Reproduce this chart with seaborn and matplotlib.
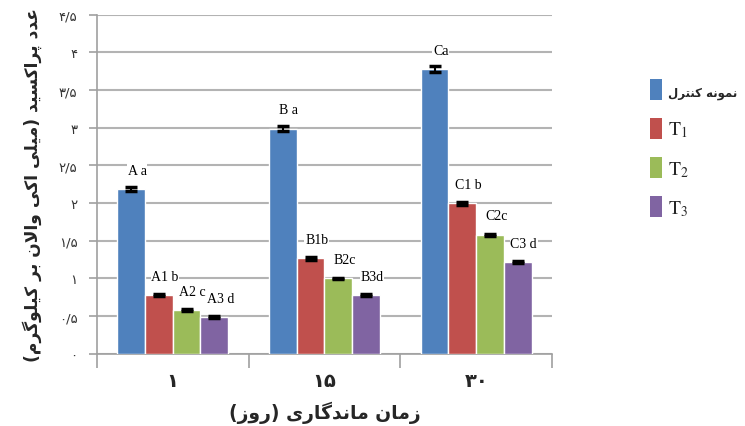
import matplotlib
matplotlib.use("Agg")
import matplotlib.pyplot as plt
import seaborn as sns
import pandas as pd
from matplotlib.patches import Patch
from matplotlib.ticker import FixedLocator

# ---------------- data ----------------
days = ["۱", "۱۵", "۳۰"]
treatments = ["control", "T1", "T2", "T3"]
control = [2.19, 2.99, 3.78]
t1 = [0.78, 1.27, 2.00]
t2 = [0.58, 1.00, 1.58]
t3 = [0.49, 0.78, 1.22]
err_control = [0.03, 0.03, 0.04]
err_t1 = [0.015, 0.02, 0.02]
err_t2 = [0.01, 0.01, 0.015]
err_t3 = [0.01, 0.01, 0.01]
letters_control = ["A a", "B a", "Ca"]
letters_t1 = ["A1 b", "B1b", "C1 b"]
letters_t2 = ["A2 c", "B2c", "C2c"]
letters_t3 = ["A3 d", "B3d", "C3 d"]
y_ticks = [0, 0.5, 1, 1.5, 2, 2.5, 3, 3.5, 4, 4.5]
y_tick_labels = ["۰", "۰/۵", "۱", "۱/۵", "۲", "۲/۵", "۳", "۳/۵", "۴", "۴/۵"]
legend_labels_fa = "نمونه کنترل"
x_title = "زمان ماندگاری (روز)"
y_title = "عدد پراکسید (میلی اکی والان بر کیلوگرم)"
colors = ["#4F81BD", "#C0504D", "#9BBB59", "#8064A2"]

# ------------- simple Persian shaping (presentation forms + RTL) -------------
FORMS = {
    "\u0627": ("\uFE8D", "\uFE8E"),
    "\u0628": ("\uFE8F", "\uFE90", "\uFE91", "\uFE92"),
    "\u067E": ("\uFB56", "\uFB57", "\uFB58", "\uFB59"),
    "\u062A": ("\uFE95", "\uFE96", "\uFE97", "\uFE98"),
    "\u062F": ("\uFEA9", "\uFEAA"),
    "\u0631": ("\uFEAD", "\uFEAE"),
    "\u0632": ("\uFEAF", "\uFEB0"),
    "\u0633": ("\uFEB1", "\uFEB2", "\uFEB3", "\uFEB4"),
    "\u0639": ("\uFEC9", "\uFECA", "\uFECB", "\uFECC"),
    "\u06A9": ("\uFB8E", "\uFB8F", "\uFB90", "\uFB91"),
    "\u06AF": ("\uFB92", "\uFB93", "\uFB94", "\uFB95"),
    "\u0644": ("\uFEDD", "\uFEDE", "\uFEDF", "\uFEE0"),
    "\u0645": ("\uFEE1", "\uFEE2", "\uFEE3", "\uFEE4"),
    "\u0646": ("\uFEE5", "\uFEE6", "\uFEE7", "\uFEE8"),
    "\u0647": ("\uFEE9", "\uFEEA", "\uFEEB", "\uFEEC"),
    "\u0648": ("\uFEED", "\uFEEE"),
    "\u06CC": ("\uFBFC", "\uFBFD", "\uFBFE", "\uFBFF"),
}


def fa(text):
    def dual(c):
        return c in FORMS and len(FORMS[c]) == 4

    out = []
    n = len(text)
    i = 0
    while i < n:
        c = text[i]
        if c not in FORMS:
            out.append(c)
            i += 1
            continue
        prev = text[i - 1] if i > 0 else ""
        pj = dual(prev)
        if c == "\u0644" and i + 1 < n and text[i + 1] == "\u0627":
            out.append("\uFEFC" if pj else "\uFEFB")
            i += 2
            continue
        nxt = text[i + 1] if i + 1 < n else ""
        nj = dual(c) and nxt in FORMS
        f = FORMS[c]
        if pj and nj:
            g = f[3]
        elif pj:
            g = f[1]
        elif nj:
            g = f[2]
        else:
            g = f[0]
        out.append(g)
        i += 1
    s = "".join(reversed(out))
    return s.translate(str.maketrans("()", ")("))


# ---------------- table ----------------
vals = [control, t1, t2, t3]
errs = [err_control, err_t1, err_t2, err_t3]
letters = [letters_control, letters_t1, letters_t2, letters_t3]
rows = []
for tr, vv in zip(treatments, vals):
    for d, v in zip(days, vv):
        rows.append({"day": d, "treatment": tr, "value": v})
df = pd.DataFrame(rows)

sns.set_style("white")
plt.rcParams["font.family"] = ["DejaVu Sans"]
plt.rcParams["mathtext.fontset"] = "stix"

fig = plt.figure(figsize=(7.45, 4.27), dpi=100)
ax = fig.add_axes([0.130, 0.169, 0.611, 0.794])

sns.barplot(data=df, x="day", y="value", hue="treatment", order=days,
            hue_order=treatments, palette=colors, width=0.73, saturation=1,
            errorbar=None, legend=False, ax=ax, zorder=3)

for cont, ee, ll in zip(ax.containers, errs, letters):
    for bar, e, lab in zip(cont, ee, ll):
        cx = bar.get_x() + bar.get_width() / 2
        h = bar.get_height()
        ax.errorbar(cx, h, yerr=e, fmt="none", ecolor="black", elinewidth=1.5,
                    capsize=4, capthick=2.5, zorder=4)
        ax.text(cx + 0.04, h + 0.25, lab, ha="center", va="center",
                fontsize=10, family="Liberation Serif", color="black", zorder=5,
                bbox=dict(facecolor="white", edgecolor="none", pad=0.5))

ax.set_ylim(0, 4.5)
ax.set_xlim(-0.5, 2.5)
ax.set_yticks(y_ticks)
ax.set_yticklabels(y_tick_labels, fontsize=9.5, color="#333333")
ax.yaxis.grid(True, color="#b3b3b3", linewidth=1.5, zorder=0)
ax.set_axisbelow(True)
for s in ["top", "right"]:
    ax.spines[s].set_visible(False)
for s in ["left", "bottom"]:
    ax.spines[s].set_color("#a0a0a0")
    ax.spines[s].set_linewidth(1.2)
ax.tick_params(axis="y", length=6, width=1.2, color="#a0a0a0", pad=8, direction="out", left=True)
ax.xaxis.set_minor_locator(FixedLocator([-0.5, 0.5, 1.5, 2.5]))
ax.tick_params(axis="x", which="minor", length=10, width=1.2, color="#a0a0a0", bottom=True)
ax.tick_params(axis="x", which="major", length=0, pad=12)
ax.set_xticklabels(days, fontsize=14, fontweight="bold")

ax.set_xlabel(fa(x_title), fontsize=13.5, fontweight="bold", labelpad=8)
ax.set_ylabel(fa(y_title), fontsize=12.3, fontweight="bold", labelpad=12)

handles = [Patch(facecolor=c, edgecolor="none") for c in colors]
labels = [fa(legend_labels_fa), r"$\mathrm{T}_1$", r"$\mathrm{T}_2$", r"$\mathrm{T}_3$"]
leg = fig.legend(handles, labels, loc="center left", bbox_to_anchor=(0.873, 0.65),
                 frameon=False, handlelength=0.6, handleheight=1.3,
                 handletextpad=0.3, labelspacing=0.9, fontsize=14,
                 borderaxespad=0, borderpad=0)
texts = leg.get_texts()
texts[0].set_fontsize(8.5)
texts[0].set_fontweight("bold")

fig.savefig("out.png", dpi=100)
